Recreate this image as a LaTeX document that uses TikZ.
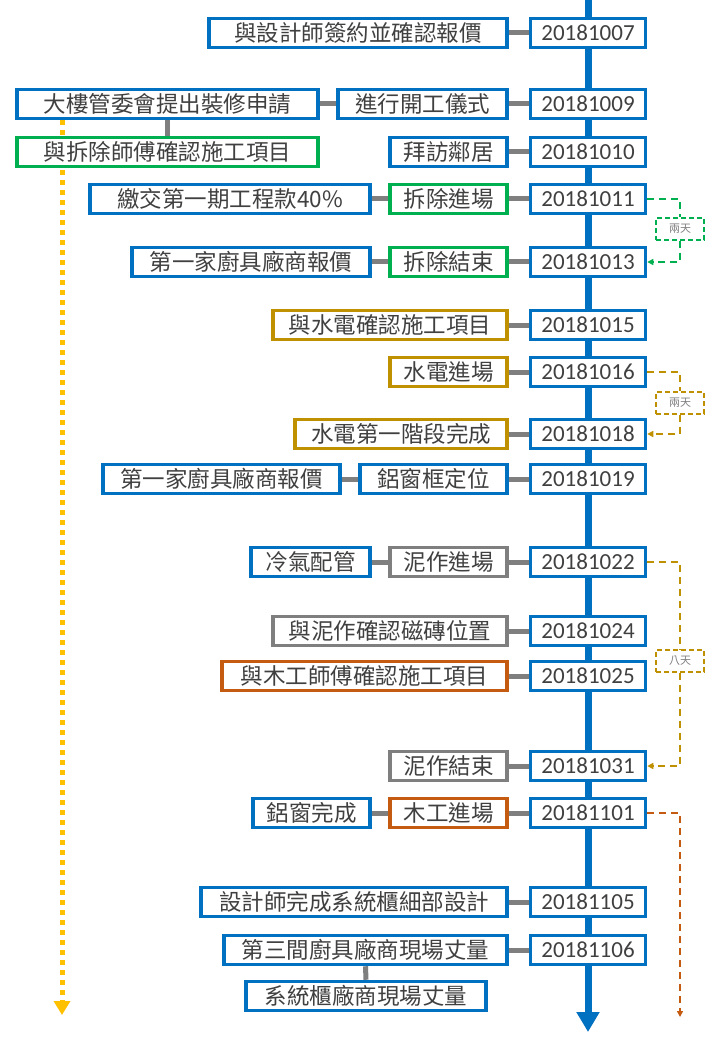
\documentclass[tikz,border=0pt]{standalone}
\usepackage{fontspec}
\newfontfamily\cjk{Noto Sans CJK TC}
\newfontfamily\num{Carlito}
\usetikzlibrary{arrows.meta}
\definecolor{cblue}{HTML}{0070C0}
\definecolor{cgreen}{HTML}{00B050}
\definecolor{cgold}{HTML}{BF9000}
\definecolor{cgray}{HTML}{7F7F7F}
\definecolor{corange}{HTML}{C55A11}
\definecolor{cyellow}{HTML}{FFC000}
\definecolor{ctext}{HTML}{404040}
\begin{document}
\begin{tikzpicture}[x=1pt,y=-1pt,
  box/.style={draw=#1,line width=3.5pt,fill=white,minimum height=29pt,inner sep=0pt,text=ctext,font=\cjk\fontsize{22.5}{24}\selectfont},
  datebox/.style={box=cblue,minimum width=115pt,font=\num\fontsize{23}{24}\selectfont},
  link/.style={draw=cgray,line width=5pt},
  lab/.style={draw=#1,dash pattern=on 5pt off 3pt,line width=1.2pt,fill=white,minimum width=48pt,minimum height=22pt,inner sep=0pt,text=cgray,font=\cjk\fontsize{11}{12}\selectfont},
  brk/.style={draw=#1,dash pattern=on 7pt off 5pt,line width=1.5pt}]
\useasboundingbox (0,0) rectangle (720,1040);
\fill[white] (0,0) rectangle (720,1040);
% yellow dotted
\coordinate (ys) at (62,120);
\coordinate (ye) at (62,1015);
\draw[cyellow,line width=5pt,dash pattern=on 5pt off 5pt,-{Triangle[length=14pt,width=16pt]}] (ys) -- (ye);
% timeline
\coordinate (ts) at (588,0);
\coordinate (te) at (588,1032);
\draw[cblue,line width=7pt,-{Triangle[length=20pt,width=22pt]}] (ts) -- (te);
% dates
\foreach \n/\y/\t in {d1/33/20181007,d2/104/20181009,d3/152/20181010,d4/199/20181011,d5/262/20181013,d6/325/20181015,d7/372/20181016,d8/434/20181018,d9/479/20181019,d10/562/20181022,d11/631/20181024,d12/676/20181025,d13/766/20181031,d14/813/20181101,d15/902/20181105,d16/950/20181106}
  \node[datebox] (\n) at (588,\y) {\t};
% left boxes
\node[box=cblue,minimum width=298pt] (a1) at (358,33) {與設計師簽約並確認報價};
\node[box=cblue,minimum width=301pt] (b1) at (167.5,104) {大樓管委會提出裝修申請};
\node[box=cblue,minimum width=169pt] (b2) at (422.5,104) {進行開工儀式};
\node[box=cgreen,minimum width=301pt] (c1) at (167.5,152) {與拆除師傅確認施工項目};
\node[box=cblue,minimum width=117pt] (c2) at (448.5,152) {拜訪鄰居};
\node[box=cblue,minimum width=280pt] (e1) at (230,199) {繳交第一期工程款40\%};
\node[box=cgreen,minimum width=117pt] (e2) at (448.5,199) {拆除進場};
\node[box=cblue,minimum width=238pt] (f1) at (251,262) {第一家廚具廠商報價};
\node[box=cgreen,minimum width=117pt] (f2) at (448.5,262) {拆除結束};
\node[box=cgold,minimum width=234pt] (g1) at (390,325) {與水電確認施工項目};
\node[box=cgold,minimum width=117pt] (h1) at (448.5,372) {水電進場};
\node[box=cgold,minimum width=212pt] (i1) at (401,434) {水電第一階段完成};
\node[box=cblue,minimum width=237pt] (j1) at (221.5,479) {第一家廚具廠商報價};
\node[box=cblue,minimum width=147pt] (j2) at (433.5,479) {鋁窗框定位};
\node[box=cblue,minimum width=119pt] (k1) at (310.5,562) {冷氣配管};
\node[box=cgray,minimum width=117pt] (k2) at (448.5,562) {泥作進場};
\node[box=cgray,minimum width=234pt] (l1) at (390,631) {與泥作確認磁磚位置};
\node[box=corange,minimum width=285pt] (m1) at (364.5,676) {與木工師傅確認施工項目};
\node[box=cgray,minimum width=117pt] (n1) at (448.5,766) {泥作結束};
\node[box=cblue,minimum width=117pt] (o1) at (311.5,813) {鋁窗完成};
\node[box=corange,minimum width=117pt] (o2) at (448.5,813) {木工進場};
\node[box=cblue,minimum width=306pt] (p1) at (354,902) {設計師完成系統櫃細部設計};
\node[box=cblue,minimum width=283pt] (q1) at (365.5,950) {第三間廚具廠商現場丈量};
\node[box=cblue,minimum width=240pt] (r1) at (366,996) {系統櫃廠商現場丈量};
% links
\foreach \a/\b in {a1/d1,b1/b2,b2/d2,c2/d3,e1/e2,e2/d4,f1/f2,f2/d5,g1/d6,h1/d7,i1/d8,j1/j2,j2/d9,k1/k2,k2/d10,l1/d11,m1/d12,n1/d13,o1/o2,o2/d14,p1/d15,q1/d16}
  \draw[link] (\a.east) -- (\b.west);
\draw[link] (b1.south) -- (c1.north);
\draw[link] (q1.south) -- (r1.north);
% brackets
\node[lab=cgreen] (L1) at (680,229) {兩天};
\draw[brk=cgreen] (d4.east) -- (680,199) -- (L1.north);
\draw[brk=cgreen,-{Triangle[length=6pt,width=6pt]}] (L1.south) -- (680,262) -- (d5.east);
\node[lab=cgold] (L2) at (680,403) {兩天};
\draw[brk=cgold] (d7.east) -- (680,372) -- (L2.north);
\draw[brk=cgold,-{Triangle[length=6pt,width=6pt]}] (L2.south) -- (680,434) -- (d8.east);
\node[lab=cgold] (L3) at (680,661) {八天};
\draw[brk=cgold] (d10.east) -- (680,562) -- (L3.north);
\draw[brk=cgold,-{Triangle[length=6pt,width=6pt]}] (L3.south) -- (680,766) -- (d13.east);
\coordinate (oe) at (680,1017);
\draw[brk=corange,-{Triangle[length=6pt,width=6pt]}] (d14.east) -- (680,813) -- (oe);
\end{tikzpicture}
\end{document}
